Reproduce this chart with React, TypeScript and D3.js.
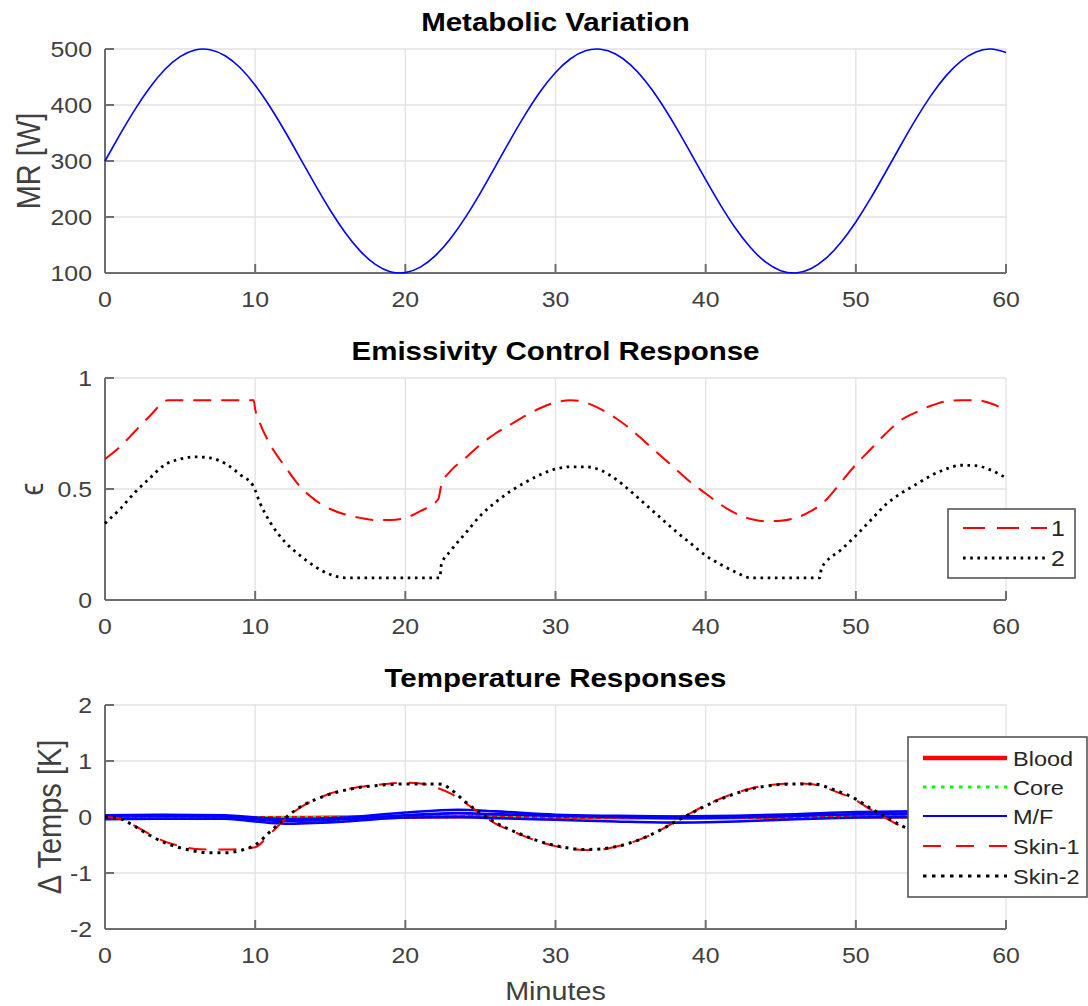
import React from 'react';
import * as d3 from 'd3';

const W = 1088;
const H = 1006;
const FONT = '"Liberation Sans", Arial, Helvetica, sans-serif';

// ---------- ticks ----------
const X_TICKS = [0, 10, 20, 30, 40, 50, 60];
const MR_TICKS = [100, 200, 300, 400, 500];
const EPS_TICKS = [0, 0.5, 1];
const DT_TICKS = [-2, -1, 0, 1, 2];

// ---------- panel 1: metabolic rate ----------
const MR_T = [0,1,2,3,4,5,6,7,8,9,10,11,12,13,14,15,16,17,18,19,20,21,22,23,24,25,26,27,28,29,30,31,32,33,34,35,36,37,38,39,40,41,42,43,44,45,46,47,48,49,50,51,52,53,54,55,56,57,58,59,60];
const MR_V = [300,347.5,392.3,431.8,463.8,486.3,498.3,498.8,488.0,466.5,435.4,396.5,352.2,304.8,257.2,212.0,171.9,139.1,115.5,102.4,100.7,110.4,130.9,161.1,199.3,243.2,290.4,338.1,383.6,424.4,458.0,482.6,496.8,499.6,491.1,471.6,442.3,404.9,361.4,314.4,266.6,220.8,179.4,145.0,119.4,104.2,100.1,107.5,126.0,154.4,191.1,234.0,280.8,328.6,374.8,416.7,452.0,478.5,494.8,500.0,493.7];

// ---------- panel 2: emissivity ----------
const EPS1_T = [0,1,2,3,4.2,6,8,9.9,10.0,10.3,11,12,13,14,15,16,17,18,19,20,21,22.2,22.4,23,24,25,26,27,28,29,30,31,32,33,34,35,36,37,38,39,40,41,42,43,44,45,46,47,48,49,50,51,52,53,54,55,56,57,58,59,60];
const EPS1_V = [0.635,0.69,0.76,0.83,0.9,0.9,0.9,0.9,0.86,0.8,0.7,0.6,0.51,0.45,0.41,0.385,0.37,0.36,0.36,0.37,0.4,0.455,0.52,0.58,0.64,0.7,0.75,0.79,0.83,0.865,0.89,0.9,0.89,0.86,0.82,0.77,0.71,0.65,0.59,0.53,0.48,0.43,0.39,0.365,0.355,0.357,0.37,0.4,0.45,0.53,0.61,0.68,0.75,0.81,0.845,0.875,0.895,0.9,0.9,0.885,0.855];
const EPS2_T = [0,1,2,3,4,5,6,7,8,9,9.9,10.3,11,12,13,14,15,16,22.3,22.4,23,24,25,26,27,28,29,30,31,32,33,34,35,36,37,38,39,40,41,42,43,47.6,47.7,48,49,50,51,52,53,54,55,56,57,58,59,60];
const EPS2_V = [0.345,0.41,0.485,0.55,0.61,0.635,0.645,0.64,0.615,0.565,0.51,0.44,0.35,0.26,0.2,0.15,0.115,0.1,0.1,0.16,0.22,0.3,0.38,0.44,0.49,0.53,0.565,0.59,0.6,0.6,0.585,0.545,0.49,0.43,0.37,0.31,0.255,0.2,0.16,0.125,0.1,0.1,0.14,0.17,0.225,0.29,0.36,0.43,0.48,0.52,0.56,0.59,0.607,0.605,0.585,0.55];

// ---------- panel 3: temperatures ----------
const SKIN2_T = [0,1,2,3,4,5,6,7,8,9,10,11,12,13,14,15,16,17,18,19,20,21,22,22.5,23,24,25,26,27,28,29,30,31,32,33,34,35,36,37,38,39,40,41,42,43,44,45,46,47,47.5,48,49,50,51,52,53,54,55,56,57,58,59,60];
const SKIN2_V = [0,-0.03,-0.17,-0.33,-0.46,-0.55,-0.61,-0.64,-0.64,-0.6,-0.5,-0.26,-0.02,0.18,0.31,0.41,0.48,0.53,0.56,0.58,0.59,0.59,0.59,0.58,0.5,0.27,0.07,-0.1,-0.23,-0.34,-0.44,-0.51,-0.56,-0.58,-0.57,-0.53,-0.46,-0.36,-0.23,-0.08,0.06,0.2,0.32,0.42,0.5,0.55,0.58,0.59,0.59,0.58,0.54,0.44,0.32,0.15,0,-0.15,-0.28,-0.4,-0.5,-0.56,-0.59,-0.58,-0.54];
const SKIN1_T = [0,1,2,3,4,5,6,7,8,9,10,11,12,13,14,15,16,17,18,19,20,21,22,23,24,25,26,27,28,29,30,31,32,33,34,35,36,37,38,39,40,41,42,43,44,45,46,47,48,49,50,51,52,53,54,55,56,57,58,59,60];
const SKIN1_V = [0,-0.03,-0.16,-0.31,-0.44,-0.52,-0.57,-0.58,-0.58,-0.57,-0.54,-0.3,-0.04,0.17,0.31,0.42,0.49,0.54,0.57,0.6,0.61,0.6,0.53,0.42,0.25,0.06,-0.12,-0.24,-0.35,-0.45,-0.52,-0.57,-0.59,-0.58,-0.53,-0.46,-0.36,-0.23,-0.08,0.07,0.21,0.33,0.43,0.51,0.56,0.59,0.6,0.59,0.52,0.42,0.3,0.13,-0.02,-0.17,-0.3,-0.42,-0.51,-0.57,-0.59,-0.58,-0.54];
const BLOOD_T = [0,5,10,15,20,25,30,35,40,45,50,55,60];
const BLOOD_V = [0,-0.01,-0.02,-0.01,0,0.01,0,-0.01,-0.01,0,0.01,0,-0.01];
const CORE_T = [0,5,10,15,20,25,30,35,40,45,50,55,60];
const CORE_V = [0,0,-0.01,-0.01,0,0,0,0,-0.01,0,0,0,0];
const MF_T = [0,4,8,10,12,16,20,23.5,26,30,34,38,42,46,50,54,60];
const MF_UPPER = [0.03,0.04,0.03,-0.01,-0.04,-0.01,0.08,0.13,0.1,0.04,0.02,0.01,0.02,0.05,0.09,0.1,0.08];
const MF_MID = [0.01,0.02,0.01,-0.04,-0.07,-0.04,0.03,0.07,0.05,0.02,0,-0.02,-0.01,0.02,0.05,0.06,0.04];
const MF_LOWER = [-0.04,-0.03,-0.03,-0.08,-0.12,-0.08,-0.01,0,-0.02,-0.05,-0.08,-0.1,-0.08,-0.04,-0.01,0,-0.01];

const LEG2 = ['1', '2'];
const LEG3 = ['Blood', 'Core', 'M/F', 'Skin-1', 'Skin-2'];

// ---------- geometry ----------
const X0 = 105;
const X1 = 1006;
const x = d3.scaleLinear().domain([0, 60]).range([X0, X1]);
const y1 = d3.scaleLinear().domain([100, 500]).range([273, 49]);
const y2 = d3.scaleLinear().domain([0, 1]).range([600, 378]);
const y3 = d3.scaleLinear().domain([-2, 2]).range([929, 705]);

const zip = (t: number[], v: number[]) => t.map((tt, i) => [tt, v[i]] as [number, number]);

function pathOf(t: number[], v: number[], ys: d3.ScaleLinear<number, number>, curve: any = d3.curveMonotoneX) {
  return d3.line<[number, number]>().x(d => x(d[0])).y(d => ys(d[1])).curve(curve)(zip(t, v)) || '';
}

function Txt(props: any) {
  const { x: tx, y: ty, size, anchor = 'middle', weight = 'normal', fill = '#404040', sx = 1.15, rotate = 0, children } = props;
  const tr = `translate(${tx},${ty}) scale(${sx},1)` + (rotate ? ` rotate(${rotate})` : '');
  return (
    <text transform={tr} fontSize={size} textAnchor={anchor} fontWeight={weight} fill={fill} fontFamily={FONT}>
      {children}
    </text>
  );
}

function Axes(props: any) {
  const { ys, yTicks, title, ylabel, ylabelX, ylabelSize } = props;
  const [bot, top] = ys.range();
  const AX = '#6e6e6e';
  return (
    <g>
      {X_TICKS.map(t => (
        <line key={'gx' + t} x1={x(t)} x2={x(t)} y1={top} y2={bot} stroke="#e2e2e2" strokeWidth={1.3} />
      ))}
      {yTicks.map((t: number) => (
        <line key={'gy' + t} x1={X0} x2={X1} y1={ys(t)} y2={ys(t)} stroke="#e2e2e2" strokeWidth={1.3} />
      ))}
      <line x1={X0} x2={X0} y1={top} y2={bot} stroke={AX} strokeWidth={2} />
      <line x1={X0} x2={X1} y1={bot} y2={bot} stroke={AX} strokeWidth={2} />
      {X_TICKS.map(t => (
        <line key={'tx' + t} x1={x(t)} x2={x(t)} y1={bot} y2={bot - 9} stroke={AX} strokeWidth={2} />
      ))}
      {yTicks.map((t: number) => (
        <line key={'ty' + t} x1={X0} x2={X0 + 9} y1={ys(t)} y2={ys(t)} stroke={AX} strokeWidth={2} />
      ))}
      {X_TICKS.map(t => (
        <Txt key={'lx' + t} x={x(t)} y={bot + 34} size={22} sx={1.13}>{String(t)}</Txt>
      ))}
      {yTicks.map((t: number) => (
        <Txt key={'ly' + t} x={92} y={ys(t) + 8} size={22} sx={1.13} anchor="end">{String(t)}</Txt>
      ))}
      <Txt x={(X0 + X1) / 2} y={top - 18} size={25} sx={1.18} weight="bold" fill="#000">{title}</Txt>
      <Txt x={ylabelX} y={(top + bot) / 2} size={ylabelSize} sx={1.12} rotate={-90}>{ylabel}</Txt>
    </g>
  );
}

export default function App() {
  const dashed = '18,10';
  const dotted = '2.6,4.6';
  return (
    <svg width={W} height={H} style={{ position: 'absolute', left: 0, top: 0, background: '#fff' }}>
      <rect x={0} y={0} width={W} height={H} fill="#fff" />

      {/* Panel 1 */}
      <Axes ys={y1} yTicks={MR_TICKS} title="Metabolic Variation" ylabel="MR [W]" ylabelX={40} ylabelSize={29} />
      <path d={pathOf(MR_T, MR_V, y1, d3.curveNatural)} fill="none" stroke="#0000ff" strokeWidth={1.6} />

      {/* Panel 2 */}
      <Axes ys={y2} yTicks={EPS_TICKS} title="Emissivity Control Response" ylabel="ϵ" ylabelX={43} ylabelSize={29} />
      <path d={pathOf(EPS1_T, EPS1_V, y2)} fill="none" stroke="#ff0000" strokeWidth={2} strokeDasharray={dashed} />
      <path d={pathOf(EPS2_T, EPS2_V, y2)} fill="none" stroke="#000" strokeWidth={2.8} strokeDasharray={dotted} />
      <g>
        <rect x={948} y={509} width={127} height={69} fill="#fff" stroke="#555" strokeWidth={1.6} />
        <line x1={963} x2={1047} y1={528} y2={528} stroke="#ff0000" strokeWidth={2} strokeDasharray="22,12" />
        <line x1={963} x2={1047} y1={558} y2={558} stroke="#000" strokeWidth={2.8} strokeDasharray={dotted} />
        <Txt x={1051} y={536} size={22} sx={1.13} anchor="start" fill="#262626">{LEG2[0]}</Txt>
        <Txt x={1051} y={566} size={22} sx={1.13} anchor="start" fill="#262626">{LEG2[1]}</Txt>
      </g>

      {/* Panel 3 */}
      <Axes ys={y3} yTicks={DT_TICKS} title="Temperature Responses" ylabel="Δ Temps [K]" ylabelX={61} ylabelSize={29} />
      <path d={pathOf(BLOOD_T, BLOOD_V, y3)} fill="none" stroke="#ff0000" strokeWidth={4} />
      <path d={pathOf(CORE_T, CORE_V, y3)} fill="none" stroke="#00ff00" strokeWidth={3} strokeDasharray="3,5" />
      <path d={pathOf(MF_T, MF_LOWER, y3)} fill="none" stroke="#0000ff" strokeWidth={2.6} />
      <path d={pathOf(MF_T, MF_MID, y3)} fill="none" stroke="#0000ff" strokeWidth={2.6} />
      <path d={pathOf(MF_T, MF_UPPER, y3)} fill="none" stroke="#0000ff" strokeWidth={2.6} />
      <path d={pathOf(SKIN1_T, SKIN1_V, y3)} fill="none" stroke="#ff0000" strokeWidth={2} strokeDasharray="18,12" />
      <path d={pathOf(SKIN2_T, SKIN2_V, y3)} fill="none" stroke="#000" strokeWidth={3} strokeDasharray="3,5" />
      <g>
        <rect x={908} y={737} width={179} height={160} fill="#fff" stroke="#555" strokeWidth={1.6} />
        <line x1={923} x2={1007} y1={758} y2={758} stroke="#ff0000" strokeWidth={4.5} />
        <line x1={923} x2={1007} y1={787} y2={787} stroke="#00ff00" strokeWidth={3} strokeDasharray="3.5,5.5" />
        <line x1={923} x2={1007} y1={816} y2={816} stroke="#0000ff" strokeWidth={2.2} />
        <line x1={923} x2={1007} y1={846} y2={846} stroke="#ff0000" strokeWidth={2} strokeDasharray="18,15" />
        <line x1={923} x2={1007} y1={876} y2={876} stroke="#000" strokeWidth={3} strokeDasharray="3.5,5.5" />
        {LEG3.map((s, i) => (
          <Txt key={s} x={1013} y={[758, 787, 816, 846, 876][i] + 8} size={21} sx={1.12} anchor="start" fill="#262626">{s}</Txt>
        ))}
      </g>
      <Txt x={(X0 + X1) / 2} y={1000} size={25} sx={1.15}>Minutes</Txt>
    </svg>
  );
}
